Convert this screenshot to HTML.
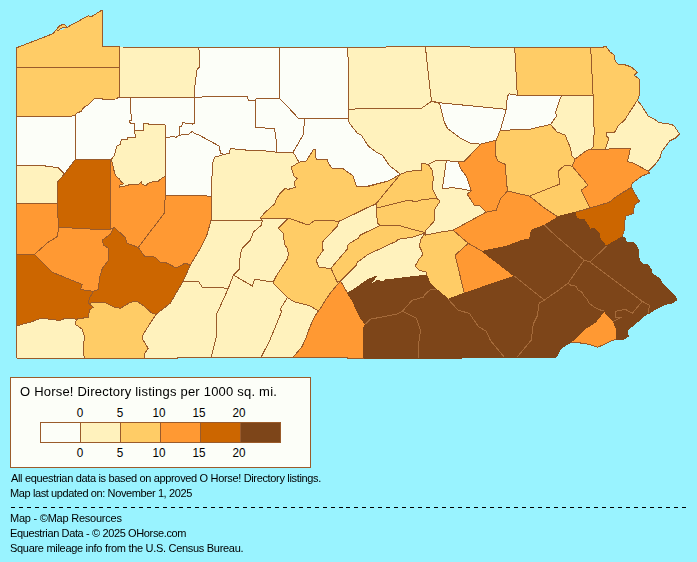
<!DOCTYPE html>
<html><head><meta charset="utf-8"><style>
html,body{margin:0;padding:0}
body{width:697px;height:562px;background:#99F3FF;position:relative;overflow:hidden;font-family:"Liberation Sans",sans-serif;color:#000}
.t{will-change:transform;position:absolute;left:10px;font-size:11px;letter-spacing:-0.35px;white-space:nowrap;line-height:13px}
.num{position:absolute;width:30px;text-align:center;font-size:13px;line-height:15px;transform:scaleX(0.9)}
</style></head><body>
<svg width="697" height="370" viewBox="0 0 697 370" shape-rendering="crispEdges" style="position:absolute;left:0;top:0">
<g stroke="none"><polygon points="16.5,47.8 53,33.7 55.9,30.1 58.8,26.5 61,25.2 63.1,24.4 65.2,25.1 67.4,27.2 88.2,15.8 91.8,16.5 102,10 102,46.5 119.5,47 119.5,67.2 16.5,67.2" fill="#FFCC66"/><polygon points="16.5,67.2 119.5,67.2 119.5,97.3 119.2,97 115.7,99 102.6,99.2 102.1,98.5 94.6,98.5 89.1,104.1 87.6,105.1 84.6,106.6 83,108.6 81,111.6 77.5,112.6 76,114.1 75.5,115.6 63.3,117 16.5,116.1" fill="#FFCC66"/><polygon points="119.5,47 198.5,47.3 199.1,50.1 199.5,67.1 197.1,69.2 195.1,83.2 194.5,97.3 119.5,97.3" fill="#FFF2BD"/><polygon points="198.5,47.3 279.4,47.3 279.4,98.3 256.3,98.3 255.3,100.3 248.3,100.3 247.3,96.3 221.2,96.3 194.5,97.3 195.1,83.2 197.1,69.2 199.5,67.1 199.1,50.1" fill="#FCFEF8"/><polygon points="279.4,47.3 347.8,47.3 348.1,61.1 348.7,109.3 348.1,118.1 304.5,118.4 298.5,118.4 285.4,104.3 279.4,98.3" fill="#FCFEF8"/><polygon points="347.8,47.3 386,47.3 386,46.5 425.4,46.5 427.4,66.1 431.5,101.3 421.4,108.3 371.2,108.3 348.7,109.3 348.1,61.1" fill="#FFF2BD"/><polygon points="425.4,46.5 470,46.5 470,47.3 514.7,47.3 517.3,95.3 509.3,93.9 507.3,96.3 506.3,109.3 440,102.8 431.5,101.3 427.4,66.1" fill="#FFF2BD"/><polygon points="514.7,47.3 590.7,47.3 593.1,95.3 561.5,95.3 517.3,95.3" fill="#FFCC66"/><polygon points="590.7,47.3 603.4,47.3 603.4,46.4 606,46.4 607.2,48.1 610.2,52.1 614.2,55.1 615.2,61.1 618.3,64.1 626.3,65.1 631.3,67.1 637.3,72.2 634.3,75.2 639.4,79.2 639.4,95.3 637.3,100.3 624.6,120 618.2,125.8 614.6,132.2 606.7,132.9 606,135.8 608.9,138 605.3,149.4 590.9,149.1 593.8,145.8 594.1,130 593.5,110 593.1,95.3" fill="#FFCC66"/><polygon points="637.3,100.3 641.4,105.3 648.4,116.3 656.4,120.4 658.4,122.4 671.5,124.4 674.5,126.4 679.5,134 675.5,138 669.5,141 661.4,152.1 660.4,157.1 655.4,164.1 648.4,171.2 633.3,163.1 627.5,161.6 630.4,148.3 611.7,148.7 605.3,149.4 608.9,138 606,135.8 606.7,132.9 614.6,132.2 618.2,125.8 624.6,120" fill="#FFF2BD"/><polygon points="16.5,116.1 63.3,117 75.5,115.6 75.3,159.3 64.3,174 58,167.3 45,166.5 45,165.3 16.5,165.3" fill="#FCFEF8"/><polygon points="75.5,115.6 76,114.1 77.5,112.6 81,111.6 83,108.6 84.6,106.6 87.6,105.1 89.1,104.1 94.6,98.5 102.1,98.5 102.6,99.2 115.7,99 119.2,97 130.5,97.3 130.8,109.1 131.3,120.1 129.3,121.1 130.3,123.1 134.3,123.1 134.5,130.6 134.8,133.6 135.8,137.2 127.7,137.2 127.2,139.2 121.2,139.2 120.6,144.5 118.1,145.5 116.6,146.5 115.6,151 114.6,155.1 112.1,158.6 111,159.5 75.3,159.3" fill="#FCFEF8"/><polygon points="130.5,97.3 194.5,97.3 194.3,123.1 192.3,124.1 182.7,122.6 181.7,126.1 179.7,126.1 179.2,135.6 178.2,135.9 175.7,137.6 174.2,136.3 171.2,136.6 169.7,137.1 165.7,137.6 165.7,125.6 164.2,124.6 148.6,124.6 148.1,123.6 143.6,123.6 143.6,130.6 134.5,130.6 134.3,123.1 130.3,123.1 129.3,121.1 131.3,120.1 130.8,109.1" fill="#FCFEF8"/><polygon points="194.5,97.3 221.2,96.3 247.3,96.3 248.3,100.3 255.3,100.3 255.7,127.8 274.5,128.2 276.1,139.2 276.1,152.2 260,150.2 247.5,150.2 230.4,148.6 229.4,153.3 224.4,154.3 220.4,153.3 219.4,146.2 199.3,135.2 195,133.6 192.3,131.3 188.8,134.1 181.7,134.9 179.2,135.6 179.7,126.1 181.7,126.1 182.7,122.6 192.3,124.1 194.3,123.1" fill="#FCFEF8"/><polygon points="255.3,100.3 256.3,98.3 279.4,98.3 285.4,104.3 298.5,118.4 304.5,118.4 303.5,134.4 293.1,152.1 276.1,152.2 276.1,139.2 274.5,128.2 255.7,127.8" fill="#FCFEF8"/><polygon points="304.5,118.4 348.1,118.1 349.3,123 357.3,133.1 361.3,135.1 368.4,146.1 376.4,152.1 382.4,155.1 389.1,165.3 400.5,174.2 388.4,181 366.3,187 358.2,186 356.3,186.3 353.3,176.2 349.3,173.2 342.3,168.2 332.2,168.2 328.2,163.2 327.2,159.2 316.1,159.2 315.1,149.1 313.1,150.1 306.1,161.2 299.1,162.2 293.1,152.1 303.5,134.4" fill="#FCFEF8"/><polygon points="348.7,109.3 371.2,108.3 421.4,108.3 431.5,101.3 439.5,103.3 444.5,122.4 447.5,128.4 460.4,138.2 470.4,143.2 480.5,144.2 464.4,161.3 458.4,162 446.4,160.5 436.3,160.3 428.3,164.3 421.3,163.3 421.3,170.3 408.2,171.3 400.5,174.2 389.1,165.3 382.4,155.1 376.4,152.1 368.4,146.1 361.3,135.1 357.3,133.1 349.3,123 348.1,118.1" fill="#FFF2BD"/><polygon points="431.5,101.3 440,102.8 506.3,109.3 500.2,130.4 496.1,140.2 480.5,144.2 470.4,143.2 460.4,138.2 447.5,128.4 444.5,122.4 439.5,103.3" fill="#FCFEF8"/><polygon points="506.3,109.3 507.3,96.3 509.3,93.9 517.3,95.3 561.5,95.3 557.5,106.3 555.5,112.3 556.5,116.3 550.5,124.4 530.2,129.2 500.2,130.4" fill="#FCFEF8"/><polygon points="561.5,95.3 593.1,95.3 593.5,110 594.1,130 593.8,145.8 590.9,149.1 585.9,150.9 580.2,155.2 575.1,159.1 572.1,156.1 570.1,147 565,135 557,132 550.5,124.4 556.5,116.3 555.5,112.3 557.5,106.3" fill="#FFF2BD"/><polygon points="500.2,130.4 530.2,129.2 550.5,124.4 557,132 565,135 570.1,147 572.1,156.1 575.1,159.1 572.1,166.1 565,165.1 558,171.2 559,178.2 560,184 529.5,196.1 507.4,191 505.1,164.3 498.1,161.3 495.1,154.3 496.1,140.2" fill="#FFCC66"/><polygon points="480.5,144.2 496.1,140.2 495.1,154.3 498.1,161.3 505.1,164.3 507.4,191 500.3,199.1 496.3,210.1 486.3,212.1 480.2,206.1 474.2,205.1 467.2,194.1 471.2,191 466.4,176.3 460.4,168.3 458.4,162 464.4,161.3" fill="#FF9933"/><polygon points="446.4,160.5 458.4,162 460.4,168.3 466.4,176.3 471.2,191 462.2,189 452.1,187.6 442.3,189" fill="#FCFEF8"/><polygon points="572.1,166.1 588.1,185.2 581.1,190.2 590.1,208 575.6,212.1 560,216.1 558,217 544.5,208.1 529.5,196.1 560,184 559,178.2 558,171.2 565,165.1" fill="#FFCC66"/><polygon points="575.1,159.1 580.2,155.2 585.9,150.9 590.9,149.1 605.3,149.4 611.7,148.7 630.4,148.3 627.5,161.6 633.3,163.1 648.4,171.2 649.4,173.2 641.4,176.2 632.3,183.2 631.3,187.2 630.3,188.2 615.2,197.3 609.2,202.3 590.1,208 581.1,190.2 588.1,185.2 572.1,166.1" fill="#FF9933"/><polygon points="590.1,208 609.2,202.3 615.2,197.3 631.3,187.2 639.4,201.3 634.3,205.3 633.3,213.3 625.3,216.4 624.3,230 622.3,236.7 606.2,246.2 600.2,239.2 599.2,233.1 594.6,228.6 590.1,229.1 587.1,224.1 584.1,219.6 579.1,219.6 576.1,217.1 575.6,212.1" fill="#CC6600"/><polygon points="604.2,311.3 613.2,321.4 616.2,328.4 616.6,339.6 612.5,340.2 604.5,344.3 597.5,347.3 589.4,344.3 578.4,342.7 570.4,342.7 576.4,337.2 584.4,329.2 595.2,322.4" fill="#FF9933"/><polygon points="340.5,281.1 343.1,285.1 345.1,289.1 347.6,293.1 353.1,302.1 356.6,310.2 360.1,317.2 365.3,324.3 363.3,328.3 363.9,358 347.2,358 347.2,357 293.4,357 302.1,346.4 305.8,338.4 307.2,334 310.1,326.7 313.8,318 316.7,313.6 318.4,311 320.4,308.5 326.2,299 331.3,291.7" fill="#FF9933"/><polygon points="340.5,281.1 356.2,265.3 357.2,262.3 368.3,254.3 396.4,241.2 398.4,239.2 412.4,237.2 424.5,233.2 420.5,240.3 419.5,246.3 423.1,254.1 419.1,259.1 415.1,266.1 419.1,270.1 426.1,272.1 427.1,276.2 426.5,275.1 385.2,280 382.2,282.1 378.2,280 370.2,284.6 376.7,276 368.2,279.5 360.1,285.1 353.1,290.1 347.6,293.1 345.1,289.1 343.1,285.1" fill="#FFF2BD"/><polygon points="331.1,268.4 334.1,264.4 347.2,249.3 348.2,244.3 358.2,238.2 360.2,235.2 380.3,225.2 398.4,225.2 411.5,229.2 423.5,232.2 424.5,233.2 412.4,237.2 398.4,239.2 396.4,241.2 368.3,254.3 357.2,262.3 356.2,265.3 340.5,281.1 337.2,282.1" fill="#FFCC66"/><polygon points="339.2,221.2 376.3,203.7 377.3,223.2 380.3,225.2 360.2,235.2 358.2,238.2 348.2,244.3 347.2,249.3 334.1,264.4 331.1,268.4 319.1,267.4 316.1,260.3 323.1,250.3 322.1,242.3 337.2,226.2" fill="#FFF2BD"/><polygon points="376.4,208.1 408.5,200.1 415.5,201.7 420.5,200.1 436.6,198.1 440.1,201.1 434.1,210.1 434.1,221.2 426,230.2 424.5,233.2 423.5,232.2 411.5,229.2 398.4,225.2 380.3,225.2 377.3,223.2" fill="#FFCC66"/><polygon points="400.5,174.2 408.2,171.3 421.3,170.3 421.3,163.3 428.3,164.3 432.3,170.3 433.3,178.4 432.3,188.4 436.3,196.4 436.6,198.1 420.5,200.1 415.5,201.7 408.5,200.1 376.4,208.1 376.4,203.3" fill="#FFCC66"/><polygon points="428.3,164.3 436.3,160.3 446.4,160.5 442.3,189 452.1,187.6 462.2,189 471.2,191 467.2,194.1 474.2,205.1 480.2,206.1 486.3,212.1 453.1,230.2 440,232.2 425,235.2 426,230.2 434.1,221.2 434.1,210.1 440.1,201.1 436.6,198.1 436.3,196.4 432.3,188.4 433.3,178.4 432.3,170.3" fill="#FFF2BD"/><polygon points="299.1,162.2 306.1,161.2 313.1,150.1 315.1,149.1 316.1,159.2 327.2,159.2 328.2,163.2 332.2,168.2 342.3,168.2 349.3,173.2 353.3,176.2 356.3,186.3 366.4,186.3 388.4,181 400.5,174.2 376.4,203.3 339.2,221.2 315.1,220.2 308.3,225 288.4,218.2 260.3,218.2 264.3,213.1 274.4,204.1 276.1,200 279.2,194.4 285.2,188.4 288.2,189.4 295.2,187.4 294.2,182.4 297.2,178.4 294.2,176.3 292.2,170.3 291.2,167.3" fill="#FFCC66"/><polygon points="214.4,157.3 224.4,154.3 229.4,153.3 230.4,148.6 247.5,150.2 260,150.2 276.1,152.2 293.1,152.1 299.1,162.2 291.2,167.3 292.2,170.3 294.2,176.3 297.2,178.4 294.2,182.4 295.2,187.4 288.2,189.4 285.2,188.4 279.2,194.4 276.1,200 274.4,204.1 264.3,213.1 260.3,218.2 262.3,220.2 211.1,220.2 211.4,196.1 212.4,164.3" fill="#FFF2BD"/><polygon points="165.7,137.6 169.7,137.1 171.2,136.6 174.2,136.3 175.7,137.6 178.2,135.9 181.7,134.9 188.8,134.1 192.3,131.3 195,133.6 199.3,135.2 219.4,146.2 220.4,153.3 224.4,154.3 214.4,157.3 212.4,164.3 211.4,196.1 165.3,195.1 165.7,176.1" fill="#FCFEF8"/><polygon points="111,159.5 112.1,158.6 114.6,155.1 115.6,151 116.6,146.5 118.1,145.5 120.6,144.5 121.2,139.2 127.2,139.2 127.7,137.2 135.8,137.2 134.8,133.6 134.5,130.6 143.6,130.6 143.6,123.6 148.1,123.6 148.6,124.6 164.2,124.6 165.7,125.6 165.7,137.6 165.7,176.1 160.3,179.2 158.3,181.2 154.2,181.2 148.2,183.2 146.2,185.7 142.2,184.2 141.2,181.7 138.2,184.7 130.1,184.2 128.1,185.2 119.6,187.2 119.6,185.2 123.6,183.7 121.6,182.2 119.1,178.7 115.6,175.7 113.6,169.1 112.6,163.6" fill="#FFF2BD"/><polygon points="57.3,182.3 64.3,174 75.3,159.3 111,159.5 110.7,229.3 97.5,229.4 71.7,228 58.8,227.3 57.3,210 57.3,203" fill="#CC6600"/><polygon points="16.5,165.3 45,165.3 45,166.5 58,167.3 64.3,174 57.3,182.3 57.3,203 16.5,203" fill="#FFF2BD"/><polygon points="16.5,203 57.3,203 57.3,210 58.8,227.3 57.3,236.6 48.2,242.2 34.5,254.3 16.5,254.3" fill="#FF9933"/><polygon points="58.8,227.3 71.7,228 97.5,229.4 110.7,229.3 114.1,227.3 110.1,234.3 102,240.3 104,245.4 108.4,248.2 108.4,260.3 102.4,268.3 99.4,278.4 98.4,289.4 93.4,291.4 80.3,289.4 82.3,284.4 52.2,272.3 34.5,254.3 48.2,242.2 57.3,236.6" fill="#FF9933"/><polygon points="111,159.5 112.6,163.6 113.6,169.1 115.6,175.7 119.1,178.7 121.6,182.2 123.6,183.7 119.6,185.2 119.6,187.2 128.1,185.2 130.1,184.2 138.2,184.7 141.2,181.7 142.2,184.2 146.2,185.7 148.2,183.2 154.2,181.2 158.3,181.2 160.3,179.2 165.7,176.1 165.3,195.1 164.3,213.2 138.2,247.4 127.2,243.3 125.1,237.3 114.1,227.3 110.7,229.3" fill="#FF9933"/><polygon points="165.3,195.1 211.4,196.1 211.1,220.2 206.5,236.3 199.3,250 190.2,265.1 185.2,263.1 176.2,268.1 167.2,263.1 160.1,262.1 156.1,258 151.1,256 145.1,257 138.2,247.4 164.3,213.2" fill="#FF9933"/><polygon points="114.1,227.3 125.1,237.3 127.2,243.3 138.2,247.4 145.1,257 151.1,256 156.1,258 160.1,262.1 167.2,263.1 176.2,268.1 185.2,263.1 190.2,265.1 183.2,281.1 170.2,303.2 156.1,314.3 152.1,313.3 144.1,306.2 137,301.2 130.5,302.2 120.5,308.2 114.5,307.2 104.4,302.2 88.4,303.2 89.4,298.2 93.4,291.4 98.4,289.4 99.4,278.4 102.4,268.3 108.4,260.3 108.4,248.2 104,245.4 102,240.3 110.1,234.3" fill="#CC6600"/><polygon points="16.5,254.3 34.5,254.3 52.2,272.3 82.3,284.4 80.3,289.4 93.4,291.4 89.4,298.2 88.4,303.2 93.4,307.2 89.4,310.2 88.4,317.2 76.3,319.2 66,318 60,320.5 52,319.5 41,318.2 30,322.3 22,324.3 16.5,326.3" fill="#CC6600"/><polygon points="16.5,326.3 22,324.3 30,322.3 41,318.2 52,319.5 60,320.5 66,318 76.3,319.2 75.3,324.3 82.3,329.3 84.3,336.3 83.3,352.4 84.3,358 16.5,358" fill="#FFF2BD"/><polygon points="88.4,303.2 104.4,302.2 114.5,307.2 120.5,308.2 130.5,302.2 137,301.2 144.1,306.2 152.1,313.3 156.1,314.3 143.1,334.3 142.1,338.4 148.1,348.4 144.1,354.4 144.1,358 84.3,358 83.3,352.4 84.3,336.3 82.3,329.3 75.3,324.3 76.3,319.2 88.4,317.2 89.4,310.2 93.4,307.2" fill="#FFCC66"/><polygon points="156.1,314.3 170.2,303.2 183.2,281.1 198.3,281.1 202.3,287.1 228.4,288.2 218.4,310.2 216.4,314.3 216.4,336.4 211.3,357 177.5,357 177.5,358 144.1,358 144.1,354.4 148.1,348.4 142.1,338.4 143.1,334.3" fill="#FFF2BD"/><polygon points="211.1,220.2 262.3,220.2 261.3,225.2 253.3,232.2 250.3,240.2 242.3,248.3 240.3,254.3 239.2,269.4 233.4,275.1 228.4,288.2 202.3,287.1 198.3,281.1 183.2,281.1 190.2,265.1 199.3,250 206.5,236.3" fill="#FFF2BD"/><polygon points="262.3,220.2 260.3,218.2 288.4,218.2 278.4,228.2 283.4,233.2 284.4,244.3 287.4,248.3 288.3,254.3 287.3,259 276.2,276.1 273.2,282.1 254.5,279.1 252.5,286.1 233.4,275.1 239.2,269.4 240.3,254.3 242.3,248.3 250.3,240.2 253.3,232.2 261.3,225.2" fill="#FFF2BD"/><polygon points="233.4,275.1 252.5,286.1 254.5,279.1 273.2,282.1 274.4,284.4 287.5,297.5 280.2,309.2 281.7,311.4 270,339.9 261.2,357 211.3,357 216.4,336.4 216.4,314.3 218.4,310.2 228.4,288.2" fill="#FFF2BD"/><polygon points="287.5,297.5 294.1,301.9 309.4,305.5 318.4,311 316.7,313.6 313.8,318 310.1,326.7 307.2,334 305.8,338.4 302.1,346.4 293.4,357 261.2,357 270,339.9 281.7,311.4 280.2,309.2" fill="#FFF2BD"/><polygon points="288.4,218.2 308.3,225 315.1,220.2 339.2,221.2 337.2,226.2 322.1,242.3 323.1,250.3 316.1,260.3 319.1,267.4 331.1,268.4 337.2,282.1 340.5,281.1 331.3,291.7 326.2,299 320.4,308.5 318.4,311 309.4,305.5 294.1,301.9 287.5,297.5 274.4,284.4 273.2,282.1 276.2,276.1 287.3,259 288.3,254.3 287.4,248.3 284.4,244.3 283.4,233.2 278.4,228.2" fill="#FFCC66"/><polygon points="425,235.2 440,232.2 453.1,230.2 468.2,243.3 455.1,255.3 464.3,293.2 448.2,299.2 436.2,289.2 430.1,283.2 427.1,276.2 426.1,272.1 419.1,270.1 415.1,266.1 419.1,259.1 423.1,254.1 419.5,246.3 420.5,240.3 424.5,233.2" fill="#FFCC66"/><polygon points="468.2,243.3 482.3,251.3 514.5,276.2 464.3,293.2 455.1,255.3" fill="#FF9933"/><polygon points="453.1,230.2 486.3,212.1 496.3,210.1 500.3,199.1 507.4,191 529.5,196.1 544.5,208.1 558,217 544.5,225.2 531.5,230.2 529.5,239.2 522.4,240.3 506.4,246.3 482.3,251.3 468.2,243.3" fill="#FF9933"/></g>
<g fill="none" stroke="#9A5B2B" stroke-width="1" stroke-linejoin="round"><polygon points="16.5,47.8 53,33.7 55.9,30.1 58.8,26.5 61,25.2 63.1,24.4 65.2,25.1 67.4,27.2 88.2,15.8 91.8,16.5 102,10 102,46.5 119.5,47 119.5,67.2 16.5,67.2"/><polygon points="16.5,67.2 119.5,67.2 119.5,97.3 119.2,97 115.7,99 102.6,99.2 102.1,98.5 94.6,98.5 89.1,104.1 87.6,105.1 84.6,106.6 83,108.6 81,111.6 77.5,112.6 76,114.1 75.5,115.6 63.3,117 16.5,116.1"/><polygon points="119.5,47 198.5,47.3 199.1,50.1 199.5,67.1 197.1,69.2 195.1,83.2 194.5,97.3 119.5,97.3"/><polygon points="198.5,47.3 279.4,47.3 279.4,98.3 256.3,98.3 255.3,100.3 248.3,100.3 247.3,96.3 221.2,96.3 194.5,97.3 195.1,83.2 197.1,69.2 199.5,67.1 199.1,50.1"/><polygon points="279.4,47.3 347.8,47.3 348.1,61.1 348.7,109.3 348.1,118.1 304.5,118.4 298.5,118.4 285.4,104.3 279.4,98.3"/><polygon points="347.8,47.3 386,47.3 386,46.5 425.4,46.5 427.4,66.1 431.5,101.3 421.4,108.3 371.2,108.3 348.7,109.3 348.1,61.1"/><polygon points="425.4,46.5 470,46.5 470,47.3 514.7,47.3 517.3,95.3 509.3,93.9 507.3,96.3 506.3,109.3 440,102.8 431.5,101.3 427.4,66.1"/><polygon points="514.7,47.3 590.7,47.3 593.1,95.3 561.5,95.3 517.3,95.3"/><polygon points="590.7,47.3 603.4,47.3 603.4,46.4 606,46.4 607.2,48.1 610.2,52.1 614.2,55.1 615.2,61.1 618.3,64.1 626.3,65.1 631.3,67.1 637.3,72.2 634.3,75.2 639.4,79.2 639.4,95.3 637.3,100.3 624.6,120 618.2,125.8 614.6,132.2 606.7,132.9 606,135.8 608.9,138 605.3,149.4 590.9,149.1 593.8,145.8 594.1,130 593.5,110 593.1,95.3"/><polygon points="637.3,100.3 641.4,105.3 648.4,116.3 656.4,120.4 658.4,122.4 671.5,124.4 674.5,126.4 679.5,134 675.5,138 669.5,141 661.4,152.1 660.4,157.1 655.4,164.1 648.4,171.2 633.3,163.1 627.5,161.6 630.4,148.3 611.7,148.7 605.3,149.4 608.9,138 606,135.8 606.7,132.9 614.6,132.2 618.2,125.8 624.6,120"/><polygon points="16.5,116.1 63.3,117 75.5,115.6 75.3,159.3 64.3,174 58,167.3 45,166.5 45,165.3 16.5,165.3"/><polygon points="75.5,115.6 76,114.1 77.5,112.6 81,111.6 83,108.6 84.6,106.6 87.6,105.1 89.1,104.1 94.6,98.5 102.1,98.5 102.6,99.2 115.7,99 119.2,97 130.5,97.3 130.8,109.1 131.3,120.1 129.3,121.1 130.3,123.1 134.3,123.1 134.5,130.6 134.8,133.6 135.8,137.2 127.7,137.2 127.2,139.2 121.2,139.2 120.6,144.5 118.1,145.5 116.6,146.5 115.6,151 114.6,155.1 112.1,158.6 111,159.5 75.3,159.3"/><polygon points="130.5,97.3 194.5,97.3 194.3,123.1 192.3,124.1 182.7,122.6 181.7,126.1 179.7,126.1 179.2,135.6 178.2,135.9 175.7,137.6 174.2,136.3 171.2,136.6 169.7,137.1 165.7,137.6 165.7,125.6 164.2,124.6 148.6,124.6 148.1,123.6 143.6,123.6 143.6,130.6 134.5,130.6 134.3,123.1 130.3,123.1 129.3,121.1 131.3,120.1 130.8,109.1"/><polygon points="194.5,97.3 221.2,96.3 247.3,96.3 248.3,100.3 255.3,100.3 255.7,127.8 274.5,128.2 276.1,139.2 276.1,152.2 260,150.2 247.5,150.2 230.4,148.6 229.4,153.3 224.4,154.3 220.4,153.3 219.4,146.2 199.3,135.2 195,133.6 192.3,131.3 188.8,134.1 181.7,134.9 179.2,135.6 179.7,126.1 181.7,126.1 182.7,122.6 192.3,124.1 194.3,123.1"/><polygon points="255.3,100.3 256.3,98.3 279.4,98.3 285.4,104.3 298.5,118.4 304.5,118.4 303.5,134.4 293.1,152.1 276.1,152.2 276.1,139.2 274.5,128.2 255.7,127.8"/><polygon points="304.5,118.4 348.1,118.1 349.3,123 357.3,133.1 361.3,135.1 368.4,146.1 376.4,152.1 382.4,155.1 389.1,165.3 400.5,174.2 388.4,181 366.3,187 358.2,186 356.3,186.3 353.3,176.2 349.3,173.2 342.3,168.2 332.2,168.2 328.2,163.2 327.2,159.2 316.1,159.2 315.1,149.1 313.1,150.1 306.1,161.2 299.1,162.2 293.1,152.1 303.5,134.4"/><polygon points="348.7,109.3 371.2,108.3 421.4,108.3 431.5,101.3 439.5,103.3 444.5,122.4 447.5,128.4 460.4,138.2 470.4,143.2 480.5,144.2 464.4,161.3 458.4,162 446.4,160.5 436.3,160.3 428.3,164.3 421.3,163.3 421.3,170.3 408.2,171.3 400.5,174.2 389.1,165.3 382.4,155.1 376.4,152.1 368.4,146.1 361.3,135.1 357.3,133.1 349.3,123 348.1,118.1"/><polygon points="431.5,101.3 440,102.8 506.3,109.3 500.2,130.4 496.1,140.2 480.5,144.2 470.4,143.2 460.4,138.2 447.5,128.4 444.5,122.4 439.5,103.3"/><polygon points="506.3,109.3 507.3,96.3 509.3,93.9 517.3,95.3 561.5,95.3 557.5,106.3 555.5,112.3 556.5,116.3 550.5,124.4 530.2,129.2 500.2,130.4"/><polygon points="561.5,95.3 593.1,95.3 593.5,110 594.1,130 593.8,145.8 590.9,149.1 585.9,150.9 580.2,155.2 575.1,159.1 572.1,156.1 570.1,147 565,135 557,132 550.5,124.4 556.5,116.3 555.5,112.3 557.5,106.3"/><polygon points="500.2,130.4 530.2,129.2 550.5,124.4 557,132 565,135 570.1,147 572.1,156.1 575.1,159.1 572.1,166.1 565,165.1 558,171.2 559,178.2 560,184 529.5,196.1 507.4,191 505.1,164.3 498.1,161.3 495.1,154.3 496.1,140.2"/><polygon points="480.5,144.2 496.1,140.2 495.1,154.3 498.1,161.3 505.1,164.3 507.4,191 500.3,199.1 496.3,210.1 486.3,212.1 480.2,206.1 474.2,205.1 467.2,194.1 471.2,191 466.4,176.3 460.4,168.3 458.4,162 464.4,161.3"/><polygon points="446.4,160.5 458.4,162 460.4,168.3 466.4,176.3 471.2,191 462.2,189 452.1,187.6 442.3,189"/><polygon points="572.1,166.1 588.1,185.2 581.1,190.2 590.1,208 575.6,212.1 560,216.1 558,217 544.5,208.1 529.5,196.1 560,184 559,178.2 558,171.2 565,165.1"/><polygon points="575.1,159.1 580.2,155.2 585.9,150.9 590.9,149.1 605.3,149.4 611.7,148.7 630.4,148.3 627.5,161.6 633.3,163.1 648.4,171.2 649.4,173.2 641.4,176.2 632.3,183.2 631.3,187.2 630.3,188.2 615.2,197.3 609.2,202.3 590.1,208 581.1,190.2 588.1,185.2 572.1,166.1"/><polygon points="590.1,208 609.2,202.3 615.2,197.3 631.3,187.2 639.4,201.3 634.3,205.3 633.3,213.3 625.3,216.4 624.3,230 622.3,236.7 606.2,246.2 600.2,239.2 599.2,233.1 594.6,228.6 590.1,229.1 587.1,224.1 584.1,219.6 579.1,219.6 576.1,217.1 575.6,212.1"/><polygon points="604.2,311.3 613.2,321.4 616.2,328.4 616.6,339.6 612.5,340.2 604.5,344.3 597.5,347.3 589.4,344.3 578.4,342.7 570.4,342.7 576.4,337.2 584.4,329.2 595.2,322.4"/><polygon points="340.5,281.1 343.1,285.1 345.1,289.1 347.6,293.1 353.1,302.1 356.6,310.2 360.1,317.2 365.3,324.3 363.3,328.3 363.9,358 347.2,358 347.2,357 293.4,357 302.1,346.4 305.8,338.4 307.2,334 310.1,326.7 313.8,318 316.7,313.6 318.4,311 320.4,308.5 326.2,299 331.3,291.7"/><polygon points="340.5,281.1 356.2,265.3 357.2,262.3 368.3,254.3 396.4,241.2 398.4,239.2 412.4,237.2 424.5,233.2 420.5,240.3 419.5,246.3 423.1,254.1 419.1,259.1 415.1,266.1 419.1,270.1 426.1,272.1 427.1,276.2 426.5,275.1 385.2,280 382.2,282.1 378.2,280 370.2,284.6 376.7,276 368.2,279.5 360.1,285.1 353.1,290.1 347.6,293.1 345.1,289.1 343.1,285.1"/><polygon points="331.1,268.4 334.1,264.4 347.2,249.3 348.2,244.3 358.2,238.2 360.2,235.2 380.3,225.2 398.4,225.2 411.5,229.2 423.5,232.2 424.5,233.2 412.4,237.2 398.4,239.2 396.4,241.2 368.3,254.3 357.2,262.3 356.2,265.3 340.5,281.1 337.2,282.1"/><polygon points="339.2,221.2 376.3,203.7 377.3,223.2 380.3,225.2 360.2,235.2 358.2,238.2 348.2,244.3 347.2,249.3 334.1,264.4 331.1,268.4 319.1,267.4 316.1,260.3 323.1,250.3 322.1,242.3 337.2,226.2"/><polygon points="376.4,208.1 408.5,200.1 415.5,201.7 420.5,200.1 436.6,198.1 440.1,201.1 434.1,210.1 434.1,221.2 426,230.2 424.5,233.2 423.5,232.2 411.5,229.2 398.4,225.2 380.3,225.2 377.3,223.2"/><polygon points="400.5,174.2 408.2,171.3 421.3,170.3 421.3,163.3 428.3,164.3 432.3,170.3 433.3,178.4 432.3,188.4 436.3,196.4 436.6,198.1 420.5,200.1 415.5,201.7 408.5,200.1 376.4,208.1 376.4,203.3"/><polygon points="428.3,164.3 436.3,160.3 446.4,160.5 442.3,189 452.1,187.6 462.2,189 471.2,191 467.2,194.1 474.2,205.1 480.2,206.1 486.3,212.1 453.1,230.2 440,232.2 425,235.2 426,230.2 434.1,221.2 434.1,210.1 440.1,201.1 436.6,198.1 436.3,196.4 432.3,188.4 433.3,178.4 432.3,170.3"/><polygon points="299.1,162.2 306.1,161.2 313.1,150.1 315.1,149.1 316.1,159.2 327.2,159.2 328.2,163.2 332.2,168.2 342.3,168.2 349.3,173.2 353.3,176.2 356.3,186.3 366.4,186.3 388.4,181 400.5,174.2 376.4,203.3 339.2,221.2 315.1,220.2 308.3,225 288.4,218.2 260.3,218.2 264.3,213.1 274.4,204.1 276.1,200 279.2,194.4 285.2,188.4 288.2,189.4 295.2,187.4 294.2,182.4 297.2,178.4 294.2,176.3 292.2,170.3 291.2,167.3"/><polygon points="214.4,157.3 224.4,154.3 229.4,153.3 230.4,148.6 247.5,150.2 260,150.2 276.1,152.2 293.1,152.1 299.1,162.2 291.2,167.3 292.2,170.3 294.2,176.3 297.2,178.4 294.2,182.4 295.2,187.4 288.2,189.4 285.2,188.4 279.2,194.4 276.1,200 274.4,204.1 264.3,213.1 260.3,218.2 262.3,220.2 211.1,220.2 211.4,196.1 212.4,164.3"/><polygon points="165.7,137.6 169.7,137.1 171.2,136.6 174.2,136.3 175.7,137.6 178.2,135.9 181.7,134.9 188.8,134.1 192.3,131.3 195,133.6 199.3,135.2 219.4,146.2 220.4,153.3 224.4,154.3 214.4,157.3 212.4,164.3 211.4,196.1 165.3,195.1 165.7,176.1"/><polygon points="111,159.5 112.1,158.6 114.6,155.1 115.6,151 116.6,146.5 118.1,145.5 120.6,144.5 121.2,139.2 127.2,139.2 127.7,137.2 135.8,137.2 134.8,133.6 134.5,130.6 143.6,130.6 143.6,123.6 148.1,123.6 148.6,124.6 164.2,124.6 165.7,125.6 165.7,137.6 165.7,176.1 160.3,179.2 158.3,181.2 154.2,181.2 148.2,183.2 146.2,185.7 142.2,184.2 141.2,181.7 138.2,184.7 130.1,184.2 128.1,185.2 119.6,187.2 119.6,185.2 123.6,183.7 121.6,182.2 119.1,178.7 115.6,175.7 113.6,169.1 112.6,163.6"/><polygon points="57.3,182.3 64.3,174 75.3,159.3 111,159.5 110.7,229.3 97.5,229.4 71.7,228 58.8,227.3 57.3,210 57.3,203"/><polygon points="16.5,165.3 45,165.3 45,166.5 58,167.3 64.3,174 57.3,182.3 57.3,203 16.5,203"/><polygon points="16.5,203 57.3,203 57.3,210 58.8,227.3 57.3,236.6 48.2,242.2 34.5,254.3 16.5,254.3"/><polygon points="58.8,227.3 71.7,228 97.5,229.4 110.7,229.3 114.1,227.3 110.1,234.3 102,240.3 104,245.4 108.4,248.2 108.4,260.3 102.4,268.3 99.4,278.4 98.4,289.4 93.4,291.4 80.3,289.4 82.3,284.4 52.2,272.3 34.5,254.3 48.2,242.2 57.3,236.6"/><polygon points="111,159.5 112.6,163.6 113.6,169.1 115.6,175.7 119.1,178.7 121.6,182.2 123.6,183.7 119.6,185.2 119.6,187.2 128.1,185.2 130.1,184.2 138.2,184.7 141.2,181.7 142.2,184.2 146.2,185.7 148.2,183.2 154.2,181.2 158.3,181.2 160.3,179.2 165.7,176.1 165.3,195.1 164.3,213.2 138.2,247.4 127.2,243.3 125.1,237.3 114.1,227.3 110.7,229.3"/><polygon points="165.3,195.1 211.4,196.1 211.1,220.2 206.5,236.3 199.3,250 190.2,265.1 185.2,263.1 176.2,268.1 167.2,263.1 160.1,262.1 156.1,258 151.1,256 145.1,257 138.2,247.4 164.3,213.2"/><polygon points="114.1,227.3 125.1,237.3 127.2,243.3 138.2,247.4 145.1,257 151.1,256 156.1,258 160.1,262.1 167.2,263.1 176.2,268.1 185.2,263.1 190.2,265.1 183.2,281.1 170.2,303.2 156.1,314.3 152.1,313.3 144.1,306.2 137,301.2 130.5,302.2 120.5,308.2 114.5,307.2 104.4,302.2 88.4,303.2 89.4,298.2 93.4,291.4 98.4,289.4 99.4,278.4 102.4,268.3 108.4,260.3 108.4,248.2 104,245.4 102,240.3 110.1,234.3"/><polygon points="16.5,254.3 34.5,254.3 52.2,272.3 82.3,284.4 80.3,289.4 93.4,291.4 89.4,298.2 88.4,303.2 93.4,307.2 89.4,310.2 88.4,317.2 76.3,319.2 66,318 60,320.5 52,319.5 41,318.2 30,322.3 22,324.3 16.5,326.3"/><polygon points="16.5,326.3 22,324.3 30,322.3 41,318.2 52,319.5 60,320.5 66,318 76.3,319.2 75.3,324.3 82.3,329.3 84.3,336.3 83.3,352.4 84.3,358 16.5,358"/><polygon points="88.4,303.2 104.4,302.2 114.5,307.2 120.5,308.2 130.5,302.2 137,301.2 144.1,306.2 152.1,313.3 156.1,314.3 143.1,334.3 142.1,338.4 148.1,348.4 144.1,354.4 144.1,358 84.3,358 83.3,352.4 84.3,336.3 82.3,329.3 75.3,324.3 76.3,319.2 88.4,317.2 89.4,310.2 93.4,307.2"/><polygon points="156.1,314.3 170.2,303.2 183.2,281.1 198.3,281.1 202.3,287.1 228.4,288.2 218.4,310.2 216.4,314.3 216.4,336.4 211.3,357 177.5,357 177.5,358 144.1,358 144.1,354.4 148.1,348.4 142.1,338.4 143.1,334.3"/><polygon points="211.1,220.2 262.3,220.2 261.3,225.2 253.3,232.2 250.3,240.2 242.3,248.3 240.3,254.3 239.2,269.4 233.4,275.1 228.4,288.2 202.3,287.1 198.3,281.1 183.2,281.1 190.2,265.1 199.3,250 206.5,236.3"/><polygon points="262.3,220.2 260.3,218.2 288.4,218.2 278.4,228.2 283.4,233.2 284.4,244.3 287.4,248.3 288.3,254.3 287.3,259 276.2,276.1 273.2,282.1 254.5,279.1 252.5,286.1 233.4,275.1 239.2,269.4 240.3,254.3 242.3,248.3 250.3,240.2 253.3,232.2 261.3,225.2"/><polygon points="233.4,275.1 252.5,286.1 254.5,279.1 273.2,282.1 274.4,284.4 287.5,297.5 280.2,309.2 281.7,311.4 270,339.9 261.2,357 211.3,357 216.4,336.4 216.4,314.3 218.4,310.2 228.4,288.2"/><polygon points="287.5,297.5 294.1,301.9 309.4,305.5 318.4,311 316.7,313.6 313.8,318 310.1,326.7 307.2,334 305.8,338.4 302.1,346.4 293.4,357 261.2,357 270,339.9 281.7,311.4 280.2,309.2"/><polygon points="288.4,218.2 308.3,225 315.1,220.2 339.2,221.2 337.2,226.2 322.1,242.3 323.1,250.3 316.1,260.3 319.1,267.4 331.1,268.4 337.2,282.1 340.5,281.1 331.3,291.7 326.2,299 320.4,308.5 318.4,311 309.4,305.5 294.1,301.9 287.5,297.5 274.4,284.4 273.2,282.1 276.2,276.1 287.3,259 288.3,254.3 287.4,248.3 284.4,244.3 283.4,233.2 278.4,228.2"/><polygon points="425,235.2 440,232.2 453.1,230.2 468.2,243.3 455.1,255.3 464.3,293.2 448.2,299.2 436.2,289.2 430.1,283.2 427.1,276.2 426.1,272.1 419.1,270.1 415.1,266.1 419.1,259.1 423.1,254.1 419.5,246.3 420.5,240.3 424.5,233.2"/><polygon points="468.2,243.3 482.3,251.3 514.5,276.2 464.3,293.2 455.1,255.3"/><polygon points="453.1,230.2 486.3,212.1 496.3,210.1 500.3,199.1 507.4,191 529.5,196.1 544.5,208.1 558,217 544.5,225.2 531.5,230.2 529.5,239.2 522.4,240.3 506.4,246.3 482.3,251.3 468.2,243.3"/>
<polyline points="57.3,31.2 60.5,28.8 63.5,27.6 67.4,27.2"/>
</g>
<path d="M59.5,30 L61.5,28.6 L64.5,27.9 L66,28 L64,29.2 L61,30 Z" fill="#99F3FF"/>
<g fill="#7D4519" stroke="#7D4519" stroke-width="1" stroke-linejoin="round"><polygon points="575.6,212.1 576.1,217.1 579.1,219.6 584.1,219.6 587.1,224.1 590.1,229.1 594.6,228.6 599.2,233.1 600.2,239.2 606.2,246.2 590.1,262.1 584.1,260.1 557,237 544.5,225.2 558,217 560,216.1"/><polygon points="606.2,246.2 622.3,236.7 624.8,237.5 626.3,242 632.3,242 636.3,245.1 638.3,250.1 639.3,261.1 643.4,264.1 648.4,265.1 651.4,270.2 652.4,274.2 659.4,278.2 663.4,285.2 669.5,290.2 675.5,296.3 676.5,300.3 671.5,303.3 665.4,304.3 659.4,307.3 653.4,310.3 649.4,313.3 648.4,313.3 649.4,305.3 642.3,301.3 590.1,262.1"/><polygon points="642.3,301.3 649.4,305.3 648.4,313.3 643.4,316.4 640.3,319.4 634.3,324.4 627.3,330.4 628.3,336.4 622,340 616.6,339.6 616.2,328.4 613.2,321.4 621.3,317.4 615.2,317 615.2,311.3 625.3,309.3 632.3,313.3"/><polygon points="584.1,260.1 590.1,262.1 642.3,301.3 632.3,313.3 625.3,309.3 615.2,311.3 615.2,317 621.3,317.4 613.2,321.4 604.2,311.3 603.2,310.8 598.2,309.3 593.1,306.3 589.1,303.3 587.1,299.3 584.1,296.3 582.1,292.3 578.1,290.2 576.1,286.2 571,285.5 568,283.2"/><polygon points="482.3,251.3 506.4,246.3 522.4,240.3 529.5,239.2 531.5,230.2 544.5,225.2 557,237 584.1,260.1 568,283.2 557,291.3 544.3,300.1 514.5,276.2"/><polygon points="544.3,300.1 557,291.3 568,283.2 571,285.5 576.1,286.2 578.1,290.2 582.1,292.3 584.1,296.3 587.1,299.3 589.1,303.3 593.1,306.3 598.2,309.3 603.2,310.8 604.2,311.3 595.2,322.4 584.4,329.2 576.4,337.2 570.4,342.7 565.3,345.3 560.3,349.3 556.3,357 517.2,357 531.2,340.2 533.2,324.2 537.2,316.1 539.2,303.1"/><polygon points="448.2,299.2 464.3,293.2 514.5,276.2 544.3,300.1 539.2,303.1 537.2,316.1 533.2,324.2 531.2,340.2 517.2,357 504.1,357 498.4,350 490.4,340.4 486.4,331.4 478.3,326.4 469.3,313.3 458.2,310.3"/><polygon points="402.4,311.2 412.1,300.3 423.1,297.2 426.1,293.2 431.1,289.2 436.2,289.2 448.2,299.2 458.2,310.3 469.3,313.3 478.3,326.4 486.4,331.4 490.4,340.4 498.4,350 504.1,357 462,357 462,358 418.5,358 418.5,344.3 420.5,330.3 416.5,318.2"/><polygon points="365.3,324.3 370.3,319.2 396.4,314.2 402.4,311.2 416.5,318.2 420.5,330.3 418.5,344.3 418.5,358 363.9,358 363.3,328.3"/><polygon points="347.6,293.1 353.1,290.1 360.1,285.1 368.2,279.5 376.7,276 370.2,284.6 378.2,280 382.2,282.1 385.2,280 426.5,275.1 427.1,276.2 430.1,283.2 436.2,289.2 431.1,289.2 426.1,293.2 423.1,297.2 412.1,300.3 402.4,311.2 396.4,314.2 370.3,319.2 365.3,324.3 360.1,317.2 356.6,310.2 353.1,302.1"/></g>
<g fill="none" stroke="#A46A3A" stroke-width="1" stroke-linejoin="round"><polyline points="544.5,225.2 557,237 584.1,260.1"/><polyline points="584.1,260.1 590.1,262.1"/><polyline points="590.1,262.1 606.2,246.2"/><polyline points="584.1,260.1 568,283.2"/><polyline points="568,283.2 557,291.3 544.3,300.1"/><polyline points="514.5,276.2 544.3,300.1"/><polyline points="590.1,262.1 642.3,301.3"/><polyline points="568,283.2 571,285.5 576.1,286.2 578.1,290.2 582.1,292.3 584.1,296.3 587.1,299.3 589.1,303.3 593.1,306.3 598.2,309.3 603.2,310.8 604.2,311.3"/><polyline points="642.3,301.3 632.3,313.3 625.3,309.3 615.2,311.3 615.2,317 621.3,317.4 613.2,321.4"/><polyline points="642.3,301.3 649.4,305.3 648.4,313.3"/><polyline points="544.3,300.1 539.2,303.1 537.2,316.1 533.2,324.2 531.2,340.2 517.2,357"/><polyline points="448.2,299.2 458.2,310.3 469.3,313.3 478.3,326.4 486.4,331.4 490.4,340.4 498.4,350 504.1,357"/><polyline points="402.4,311.2 412.1,300.3 423.1,297.2 426.1,293.2 431.1,289.2 436.2,289.2"/><polyline points="402.4,311.2 416.5,318.2 420.5,330.3 418.5,344.3 418.5,358"/><polyline points="365.3,324.3 370.3,319.2 396.4,314.2 402.4,311.2"/></g>
</svg>
<div style="position:absolute;left:10px;top:377px;width:299px;height:89px;border:1px solid #9A5B2B;background:#FCFEF8"></div>
<div style="position:absolute;left:20px;top:384px;will-change:transform;font-size:13px;letter-spacing:0.21px;white-space:nowrap;line-height:15px">O Horse! Directory listings per 1000 sq. mi.</div>
<div class="num" style="left:65px;top:405px">0</div><div class="num" style="left:105px;top:405px">5</div><div class="num" style="left:144px;top:405px">10</div><div class="num" style="left:184px;top:405px">15</div><div class="num" style="left:224px;top:405px">20</div>
<div style="position:absolute;left:40px;top:422px;width:241px;height:21px;box-sizing:border-box;border:1px solid #9A5B2B"></div><div style="position:absolute;left:41px;top:423px;width:39px;height:19px;background:#FCFEF8"></div><div style="position:absolute;left:81px;top:423px;width:39px;height:19px;background:#FFF2BD"></div><div style="position:absolute;left:121px;top:423px;width:39px;height:19px;background:#FFCC66"></div><div style="position:absolute;left:161px;top:423px;width:39px;height:19px;background:#FF9933"></div><div style="position:absolute;left:201px;top:423px;width:39px;height:19px;background:#CC6600"></div><div style="position:absolute;left:241px;top:423px;width:39px;height:19px;background:#7D4519"></div><div style="position:absolute;left:80px;top:423px;width:1px;height:19px;background:#9A5B2B"></div><div style="position:absolute;left:120px;top:423px;width:1px;height:19px;background:#9A5B2B"></div><div style="position:absolute;left:160px;top:423px;width:1px;height:19px;background:#9A5B2B"></div><div style="position:absolute;left:200px;top:423px;width:1px;height:19px;background:#9A5B2B"></div><div style="position:absolute;left:240px;top:423px;width:1px;height:19px;background:#9A5B2B"></div>
<div class="num" style="left:65px;top:445px">0</div><div class="num" style="left:105px;top:445px">5</div><div class="num" style="left:144px;top:445px">10</div><div class="num" style="left:184px;top:445px">15</div><div class="num" style="left:224px;top:445px">20</div>
<div class="t" style="top:472px;left:11px;letter-spacing:-0.337px">All equestrian data is based on approved O Horse! Directory listings.</div>
<div class="t" style="top:487px;letter-spacing:-0.39px">Map last updated on: November 1, 2025</div>
<div style="position:absolute;left:11px;top:507px;width:4px;height:1px;background:#000"></div><div style="position:absolute;left:19px;top:507px;width:4px;height:1px;background:#000"></div><div style="position:absolute;left:27px;top:507px;width:4px;height:1px;background:#000"></div><div style="position:absolute;left:35px;top:507px;width:4px;height:1px;background:#000"></div><div style="position:absolute;left:43px;top:507px;width:4px;height:1px;background:#000"></div><div style="position:absolute;left:51px;top:507px;width:4px;height:1px;background:#000"></div><div style="position:absolute;left:59px;top:507px;width:4px;height:1px;background:#000"></div><div style="position:absolute;left:67px;top:507px;width:4px;height:1px;background:#000"></div><div style="position:absolute;left:75px;top:507px;width:4px;height:1px;background:#000"></div><div style="position:absolute;left:83px;top:507px;width:4px;height:1px;background:#000"></div><div style="position:absolute;left:91px;top:507px;width:4px;height:1px;background:#000"></div><div style="position:absolute;left:99px;top:507px;width:4px;height:1px;background:#000"></div><div style="position:absolute;left:107px;top:507px;width:4px;height:1px;background:#000"></div><div style="position:absolute;left:115px;top:507px;width:4px;height:1px;background:#000"></div><div style="position:absolute;left:123px;top:507px;width:4px;height:1px;background:#000"></div><div style="position:absolute;left:131px;top:507px;width:4px;height:1px;background:#000"></div><div style="position:absolute;left:139px;top:507px;width:4px;height:1px;background:#000"></div><div style="position:absolute;left:147px;top:507px;width:4px;height:1px;background:#000"></div><div style="position:absolute;left:155px;top:507px;width:4px;height:1px;background:#000"></div><div style="position:absolute;left:163px;top:507px;width:4px;height:1px;background:#000"></div><div style="position:absolute;left:171px;top:507px;width:4px;height:1px;background:#000"></div><div style="position:absolute;left:179px;top:507px;width:4px;height:1px;background:#000"></div><div style="position:absolute;left:187px;top:507px;width:4px;height:1px;background:#000"></div><div style="position:absolute;left:195px;top:507px;width:4px;height:1px;background:#000"></div><div style="position:absolute;left:203px;top:507px;width:4px;height:1px;background:#000"></div><div style="position:absolute;left:211px;top:507px;width:4px;height:1px;background:#000"></div><div style="position:absolute;left:219px;top:507px;width:4px;height:1px;background:#000"></div><div style="position:absolute;left:227px;top:507px;width:4px;height:1px;background:#000"></div><div style="position:absolute;left:235px;top:507px;width:4px;height:1px;background:#000"></div><div style="position:absolute;left:243px;top:507px;width:4px;height:1px;background:#000"></div><div style="position:absolute;left:251px;top:507px;width:4px;height:1px;background:#000"></div><div style="position:absolute;left:259px;top:507px;width:4px;height:1px;background:#000"></div><div style="position:absolute;left:267px;top:507px;width:4px;height:1px;background:#000"></div><div style="position:absolute;left:275px;top:507px;width:4px;height:1px;background:#000"></div><div style="position:absolute;left:283px;top:507px;width:4px;height:1px;background:#000"></div><div style="position:absolute;left:291px;top:507px;width:4px;height:1px;background:#000"></div><div style="position:absolute;left:299px;top:507px;width:4px;height:1px;background:#000"></div><div style="position:absolute;left:307px;top:507px;width:4px;height:1px;background:#000"></div><div style="position:absolute;left:315px;top:507px;width:4px;height:1px;background:#000"></div><div style="position:absolute;left:323px;top:507px;width:4px;height:1px;background:#000"></div><div style="position:absolute;left:331px;top:507px;width:4px;height:1px;background:#000"></div><div style="position:absolute;left:339px;top:507px;width:4px;height:1px;background:#000"></div><div style="position:absolute;left:346px;top:507px;width:4px;height:1px;background:#000"></div><div style="position:absolute;left:354px;top:507px;width:4px;height:1px;background:#000"></div><div style="position:absolute;left:362px;top:507px;width:4px;height:1px;background:#000"></div><div style="position:absolute;left:370px;top:507px;width:4px;height:1px;background:#000"></div><div style="position:absolute;left:378px;top:507px;width:4px;height:1px;background:#000"></div><div style="position:absolute;left:386px;top:507px;width:4px;height:1px;background:#000"></div><div style="position:absolute;left:394px;top:507px;width:4px;height:1px;background:#000"></div><div style="position:absolute;left:402px;top:507px;width:4px;height:1px;background:#000"></div><div style="position:absolute;left:410px;top:507px;width:4px;height:1px;background:#000"></div><div style="position:absolute;left:418px;top:507px;width:4px;height:1px;background:#000"></div><div style="position:absolute;left:426px;top:507px;width:4px;height:1px;background:#000"></div><div style="position:absolute;left:434px;top:507px;width:4px;height:1px;background:#000"></div><div style="position:absolute;left:442px;top:507px;width:4px;height:1px;background:#000"></div><div style="position:absolute;left:450px;top:507px;width:4px;height:1px;background:#000"></div><div style="position:absolute;left:458px;top:507px;width:4px;height:1px;background:#000"></div><div style="position:absolute;left:466px;top:507px;width:4px;height:1px;background:#000"></div><div style="position:absolute;left:474px;top:507px;width:4px;height:1px;background:#000"></div><div style="position:absolute;left:482px;top:507px;width:4px;height:1px;background:#000"></div><div style="position:absolute;left:490px;top:507px;width:4px;height:1px;background:#000"></div><div style="position:absolute;left:498px;top:507px;width:4px;height:1px;background:#000"></div><div style="position:absolute;left:506px;top:507px;width:4px;height:1px;background:#000"></div><div style="position:absolute;left:514px;top:507px;width:4px;height:1px;background:#000"></div><div style="position:absolute;left:522px;top:507px;width:4px;height:1px;background:#000"></div><div style="position:absolute;left:530px;top:507px;width:4px;height:1px;background:#000"></div><div style="position:absolute;left:538px;top:507px;width:4px;height:1px;background:#000"></div><div style="position:absolute;left:546px;top:507px;width:4px;height:1px;background:#000"></div><div style="position:absolute;left:554px;top:507px;width:4px;height:1px;background:#000"></div><div style="position:absolute;left:562px;top:507px;width:4px;height:1px;background:#000"></div><div style="position:absolute;left:570px;top:507px;width:4px;height:1px;background:#000"></div><div style="position:absolute;left:578px;top:507px;width:4px;height:1px;background:#000"></div><div style="position:absolute;left:586px;top:507px;width:4px;height:1px;background:#000"></div><div style="position:absolute;left:594px;top:507px;width:4px;height:1px;background:#000"></div><div style="position:absolute;left:602px;top:507px;width:4px;height:1px;background:#000"></div><div style="position:absolute;left:610px;top:507px;width:4px;height:1px;background:#000"></div><div style="position:absolute;left:618px;top:507px;width:4px;height:1px;background:#000"></div><div style="position:absolute;left:626px;top:507px;width:4px;height:1px;background:#000"></div><div style="position:absolute;left:634px;top:507px;width:4px;height:1px;background:#000"></div><div style="position:absolute;left:642px;top:507px;width:4px;height:1px;background:#000"></div><div style="position:absolute;left:650px;top:507px;width:4px;height:1px;background:#000"></div><div style="position:absolute;left:658px;top:507px;width:4px;height:1px;background:#000"></div><div style="position:absolute;left:666px;top:507px;width:4px;height:1px;background:#000"></div><div style="position:absolute;left:674px;top:507px;width:4px;height:1px;background:#000"></div><div style="position:absolute;left:682px;top:507px;width:4px;height:1px;background:#000"></div>
<div class="t" style="top:512px;letter-spacing:-0.23px">Map - ©Map Resources</div>
<div class="t" style="top:527px;letter-spacing:-0.37px">Equestrian Data - © 2025 OHorse.com</div>
<div class="t" style="top:542px;letter-spacing:-0.30px">Square mileage info from the U.S. Census Bureau.</div>
</body></html>
